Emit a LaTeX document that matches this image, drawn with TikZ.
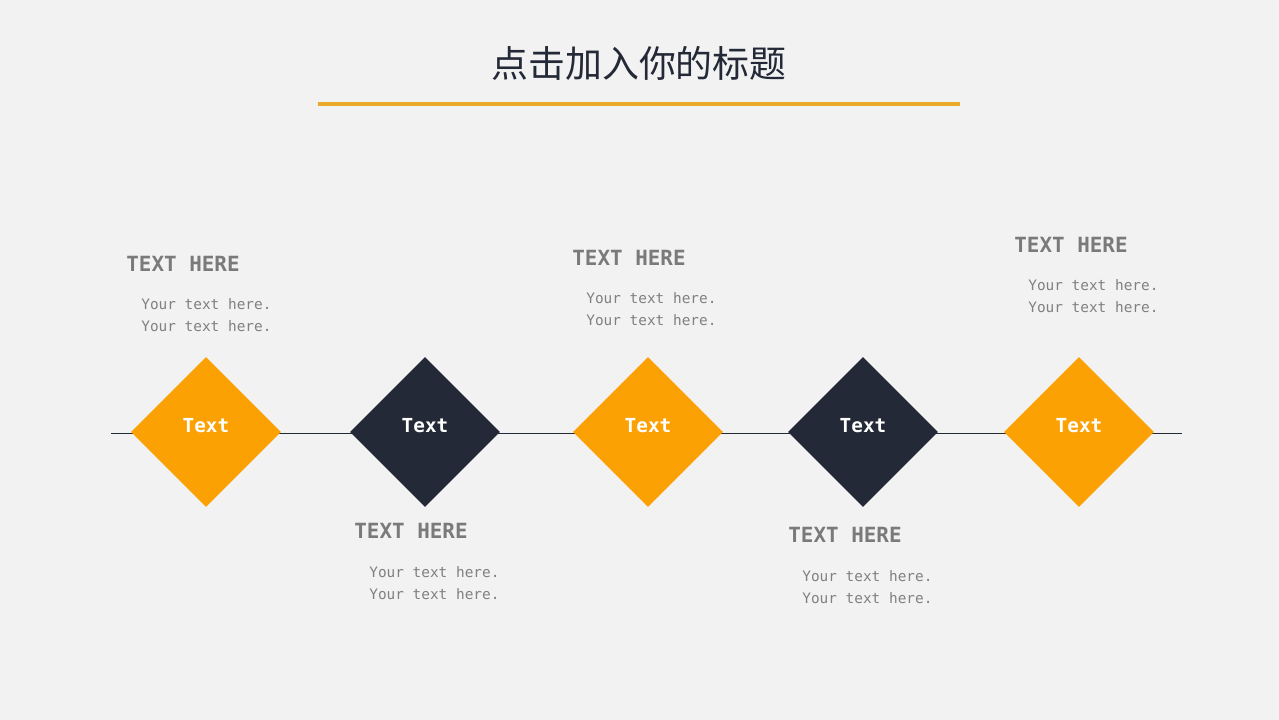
\documentclass[tikz,border=0pt]{standalone}
\usepackage{fontspec}
\setmainfont{DejaVu Sans Mono}
\newfontfamily\cjkfont{Noto Sans CJK SC}
\usetikzlibrary{shapes.geometric,positioning}
\definecolor{bggray}{RGB}{242,242,242}
\definecolor{dorange}{RGB}{252,161,4}
\definecolor{dnavy}{RGB}{35,41,54}
\definecolor{titleline}{RGB}{234,169,38}
\definecolor{headgray}{RGB}{122,122,122}
\definecolor{bodygray}{RGB}{128,128,128}

\begin{document}
\begin{tikzpicture}[x=0.02cm,y=-0.02cm,
		stepdiamond/.style={diamond,aspect=1,minimum size=3cm,inner sep=0pt,draw=none},
		dtext/.style={text=white,font=\bfseries\fontsize{11}{13}\selectfont,inner sep=0pt,yshift=3.4pt},
		headtext/.style={anchor=west,inner sep=0pt,text=headgray,font=\bfseries\fontsize{11.9}{14}\selectfont},
		bodytext/.style={anchor=west,inner sep=0pt,align=left,text=bodygray,font=\fontsize{8.2}{12.5}\selectfont}]
		\path [fill=bggray] (0,0) rectangle (1279,720);
		\useasboundingbox (0,0) rectangle (1279,720);
		% title
		\node (title) at (639,63) [font=\cjkfont\fontsize{21}{24}\selectfont,text=dnavy] {点击加入你的标题};
		\coordinate (ulleft) at (318,104);
		\coordinate (ulright) at (960,104);
		\path [draw=titleline,line width=4.5*0.567pt] (ulleft) -- (ulright);
		% time line
		\coordinate (lstart) at (111,433);
		\coordinate (lend) at (1182,433);
		\path [draw=dnavy,line width=0.5pt] (lstart) -- (lend);
		\node (d1) at (206,432) [stepdiamond,fill=dorange,label={[dtext]center:Text}] {};
		\node (d2) at (425,432) [stepdiamond,fill=dnavy,label={[dtext]center:Text}] {};
		\node (d3) at (648,432) [stepdiamond,fill=dorange,label={[dtext]center:Text}] {};
		\node (d4) at (863,432) [stepdiamond,fill=dnavy,label={[dtext]center:Text}] {};
		\node (d5) at (1079,432) [stepdiamond,fill=dorange,label={[dtext]center:Text}] {};
		% texts
		\node (h1) at (126,264) [headtext] {TEXT HERE};
		\node (b1) at (141,315) [bodytext] {Your text here.\\Your text here.};
		\node (h2) at (354,531) [headtext] {TEXT HERE};
		\node (b2) at (369,583) [bodytext] {Your text here.\\Your text here.};
		\node (h3) at (572,258) [headtext] {TEXT HERE};
		\node (b3) at (586,309) [bodytext] {Your text here.\\Your text here.};
		\node (h4) at (788,535) [headtext] {TEXT HERE};
		\node (b4) at (802,587) [bodytext] {Your text here.\\Your text here.};
		\node (h5) at (1014,245) [headtext] {TEXT HERE};
		\node (b5) at (1028,296) [bodytext] {Your text here.\\Your text here.};
\end{tikzpicture}
\end{document}
